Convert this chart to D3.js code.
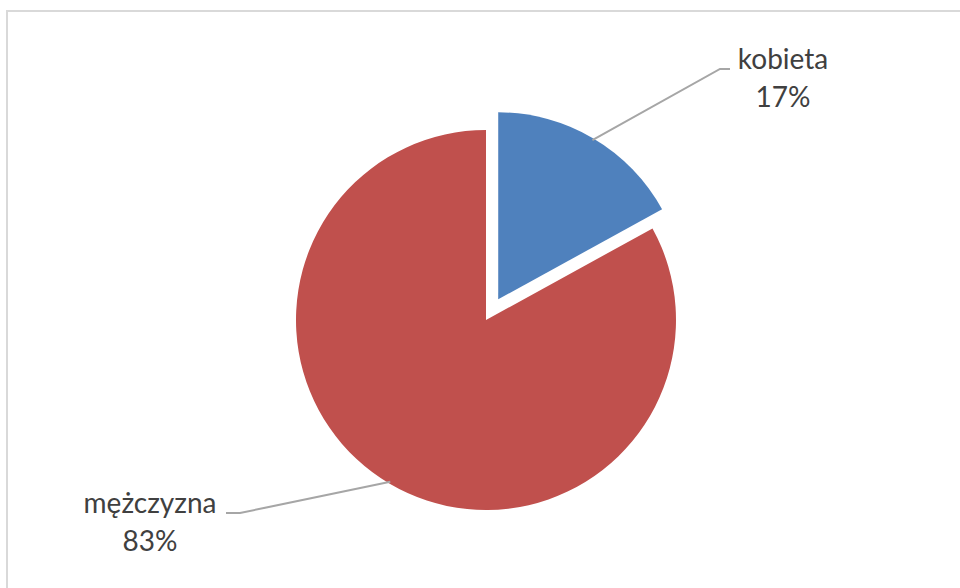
<!DOCTYPE html>
<html><head><meta charset="utf-8">
<script src="https://cdn.jsdelivr.net/npm/d3@7"></script>
<style>html,body{margin:0;padding:0;background:#fff;}svg{display:block;}</style>
</head><body>
<svg id="chart" width="960" height="588"></svg>
<script>
const categories = ["kobieta", "mężczyzna"];
const values = [17, 83];
const labels = ["17%", "83%"];
const colors = ["#4F81BD", "#C0504D"];

const svg = d3.select("#chart");
svg.append("rect").attr("x", 7).attr("y", 11).attr("width", 1000).attr("height", 1000)
  .attr("fill", "#fff").attr("stroke", "#D9D9D9").attr("stroke-width", 2);

const cx = 486, cy = 320, r = 190;
const data = categories.map((c, i) => ({cat: c, value: values[i], label: labels[i], color: colors[i],
  explode: i === 0 ? 24 : 0, radius: i === 0 ? 187 : r}));
const pie = d3.pie().value(d => d.value).sort(null);
const arcs = pie(data);
const arc = d3.arc().innerRadius(0).outerRadius(d => d.data.radius);

const g = svg.append("g").attr("transform", `translate(${cx},${cy})`);
arcs.forEach(a => {
  const mid = (a.startAngle + a.endAngle) / 2;
  a.mid = mid;
  a.ox = Math.sin(mid) * a.data.explode;
  a.oy = -Math.cos(mid) * a.data.explode;
});
g.selectAll("path.slice").data(arcs).enter().append("path")
  .attr("class", "slice")
  .attr("d", arc)
  .attr("transform", d => `translate(${d.ox},${d.oy})`)
  .attr("fill", d => d.data.color);

// leader lines and labels (layout offsets)
const layout = [
  {elbow: [720, 69], end: [730, 69], tx: 783, ty: 69},
  {elbow: [240, 513], end: [226, 513], tx: 150, ty: 513}
];
arcs.forEach((a, i) => {
  const rr = a.data.radius - 2;
  const sx = cx + a.ox + Math.sin(a.mid) * rr;
  const sy = cy + a.oy - Math.cos(a.mid) * rr;
  const L = layout[i];
  svg.append("polyline")
    .attr("points", [[sx, sy], L.elbow, L.end].map(p => p.join(",")).join(" "))
    .attr("fill", "none").attr("stroke", "#A6A6A6").attr("stroke-width", 2);
  const t = svg.append("text").attr("x", L.tx).attr("y", L.ty)
    .attr("text-anchor", "middle")
    .attr("font-family", "Lato, 'Open Sans', sans-serif")
    .attr("font-size", 28).attr("fill", "#404040");
  t.append("tspan").attr("x", L.tx).attr("dy", 0).text(a.data.cat);
  t.append("tspan").attr("x", L.tx).attr("dy", 38).text(a.data.label);
});
</script>
</body></html>
